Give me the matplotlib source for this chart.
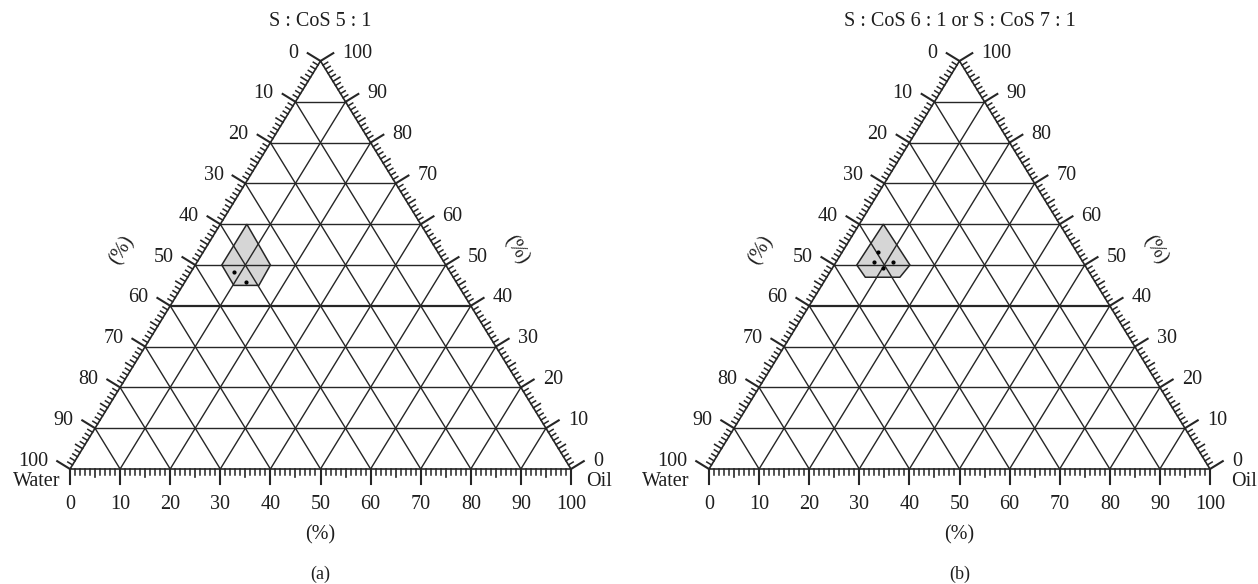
import numpy as np
import matplotlib
matplotlib.use("Agg")
import matplotlib.pyplot as plt

plt.rcParams['font.family'] = ['Liberation Serif', 'DejaVu Serif']

# ternary data: oil % and S/CoS (smix) %; water is the rest
titles = ['S : CoS 5 : 1', 'S : CoS 6 : 1 or S : CoS 7 : 1']
captions = ['(a)', '(b)']
region_a_oil = [5.3, 5.3, 10.2, 15.2, 15.0]
region_a_smix = [60, 50, 45, 45, 50]
region_b_oil = [4.8, 4.5, 7.7, 14.6, 15.1]
region_b_smix = [60, 50, 47, 47, 50]
dots_a_oil = [8.6, 12.2]
dots_a_smix = [48.4, 45.8]
dots_b_oil = [7.25, 7.5, 11.3, 10.2]
dots_b_smix = [53.1, 50.8, 50.8, 49.2]
major = list(range(0, 101, 10))

# pixel geometry of one triangle (Water vertex, scale per 1%)
SX, SY = 5.01, 4.08
W, H = 1258, 584
origins = [70, 709]
base_y = 469
water_off = [-33, -43]
oil_off = [28, 34]

LINE = '#262626'
TXT = '#1e1e1e'


def tern(oil, smix):
    oil = np.asarray(oil, float)
    smix = np.asarray(smix, float)
    return oil + smix / 2, smix


def off(dx, dy):
    # pixel offset -> data offset
    return dx / SX, -dy / SY


fig = plt.figure(figsize=(W / 100, H / 100), dpi=100)

nl = np.array([-408.0, -250.5])
nl = nl / np.hypot(*nl)
nr = np.array([408.0, -250.5])
nr = nr / np.hypot(*nr)
ang = np.degrees(np.arctan2(408, 250.5))

panels = [(region_a_oil, region_a_smix, dots_a_oil, dots_a_smix),
          (region_b_oil, region_b_smix, dots_b_oil, dots_b_smix)]

for p, (r_oil, r_s, d_oil, d_s) in enumerate(panels):
    ax = fig.add_axes([p * 0.5, 0, 0.5, 1])
    x0 = origins[p]
    left_px = p * W / 2
    ax.set_xlim((left_px - x0) / SX, (left_px + W / 2 - x0) / SX)
    ax.set_ylim((base_y - H) / SY, base_y / SY)
    ax.axis('off')

    # shaded region
    rx, ry = tern(r_oil, r_s)
    ax.fill(rx, ry, facecolor='#d6d6d6', edgecolor=LINE, lw=1.1, zorder=1)
    dx_, dy_ = tern(d_oil, d_s)
    ax.scatter(dx_, dy_, s=4, color='black', zorder=4)

    # grid
    for k in major[1:-1]:
        lw = 1.6 if k == 40 else 1.0
        ax.plot([k / 2, 100 - k / 2], [k, k], color=LINE, lw=lw, zorder=2)
        ax.plot([k, k + (100 - k) / 2], [0, 100 - k], color=LINE, lw=1.0, zorder=2)
        ax.plot([100 - k, (100 - k) / 2], [0, 100 - k], color=LINE, lw=1.0, zorder=2)
    ax.plot([0, 100, 50, 0], [0, 0, 100, 0], color=LINE, lw=1.2, zorder=3)

    # ticks
    for i in range(101):
        if i % 10 == 0:
            L, lw = 15, 1.5
        elif i % 5 == 0:
            L, lw = 8, 1.2
        else:
            L, lw = 5.5, 1.1
        # bottom
        ax.plot([i, i], [0, -L / SY], color=LINE, lw=lw)
        # left
        lx, ly = i / 2, i
        ax.plot([lx, lx + L * nl[0] / SX], [ly, ly - L * nl[1] / SY], color=LINE, lw=lw)
        # right
        rxp, ryp = 100 - i / 2, i
        ax.plot([rxp, rxp + L * nr[0] / SX], [ryp, ryp - L * nr[1] / SY], color=LINE, lw=lw)

    fs = 14.5
    for i in major:
        ax.text(i, off(0, 26)[1], str(i), ha='center', va='top', fontsize=fs, color=TXT)
        lx = i / 2 + 15 * nl[0] / SX - 9 / SX
        ly = i - 15 * nl[1] / SY
        ax.text(lx, ly, str(100 - i), ha='right', va='center', fontsize=fs, color=TXT)
        rxp = 100 - i / 2 + 15 * nr[0] / SX + 9 / SX
        ryp = i - 15 * nr[1] / SY
        ax.text(rxp, ryp, str(i), ha='left', va='center', fontsize=fs, color=TXT)

    ax.text(off(water_off[p], 0)[0], off(0, 12.5)[1], 'Water', ha='center', va='center',
            fontsize=fs, color=TXT)
    ax.text(100 + off(oil_off[p], 0)[0], off(0, 12.5)[1], 'Oil', ha='center', va='center',
            fontsize=fs, color=TXT)

    ax.text(off(52, 0)[0], off(0, -219)[1], '(%)', rotation=ang, ha='center', va='center',
            rotation_mode='anchor', fontsize=fs, color=TXT)
    ax.text(100 + off(-55, 0)[0], off(0, -219)[1], '(%)', rotation=-ang, ha='center', va='center',
            rotation_mode='anchor', fontsize=fs, color=TXT)
    ax.text(50, off(0, 66)[1], '(%)', ha='center', va='center', fontsize=fs, color=TXT)
    ax.text(50, off(0, 105)[1], captions[p], ha='center', va='center', fontsize=13, color=TXT)
    ax.text(50, off(0, -447)[1], titles[p], ha='center', va='center', fontsize=fs, color=TXT)

fig.savefig('out.png', dpi=100)
